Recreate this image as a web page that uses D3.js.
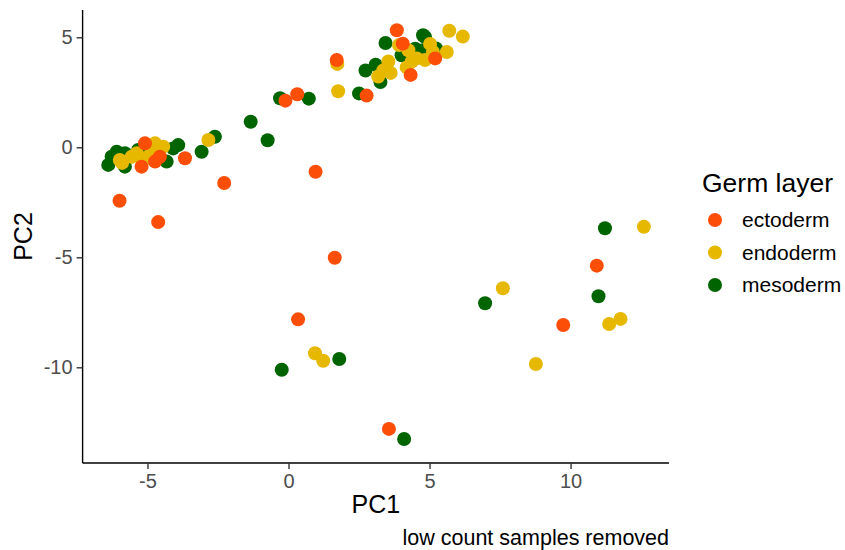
<!DOCTYPE html>
<html>
<head>
<meta charset="utf-8">
<script src="https://cdn.jsdelivr.net/npm/d3@7"></script>
<style>
  body { margin: 0; background: #fff; }
  svg { display: block; font-family: "Liberation Sans", Arial, sans-serif; }
</style>
</head>
<body>
<svg id="chart" width="845" height="550"></svg>
<script>
// PCA scores, [PC1, PC2]
const mesoderm = [
  [-0.24, -10.11], [1.80, -9.62], [4.10, -13.26], [6.97, -7.09], [10.99, -6.77], [11.22, -3.68],
  [-1.34, 1.16], [-0.74, 0.32], [-0.30, 2.23], [0.72, 2.21], [2.50, 2.45],
  [2.73, 3.49], [3.09, 3.75], [3.26, 2.97], [3.44, 4.74], [4.01, 4.18], [4.77, 5.09], [4.84, 5.01],
  [4.72, 4.40], [4.49, 4.48], [5.23, 4.49],
  [-6.39, -0.80], [-6.27, -0.43], [-6.09, -0.20], [-5.80, -0.27], [-5.80, -0.88], [-5.33, -0.12],
  [-4.97, 0.03], [-4.32, -0.65], [-4.09, -0.05], [-3.91, 0.10], [-3.08, -0.20], [-2.61, 0.48]
];
const endoderm = [
  [0.94, -9.36], [1.23, -9.70], [7.60, -6.41], [8.77, -9.85], [11.37, -8.03], [11.77, -7.80], [12.60, -3.61],
  [1.73, 3.79], [1.76, 2.55], [3.54, 3.90], [3.36, 3.49], [3.62, 3.38], [3.18, 3.22],
  [3.92, 4.65], [4.25, 4.41], [5.02, 4.70], [5.12, 4.33], [4.84, 3.97], [4.37, 3.90], [4.19, 3.63],
  [4.55, 4.04], [5.61, 4.33], [5.70, 5.30], [6.18, 5.03],
  [-5.98, -0.58], [-5.90, -0.71], [-5.56, -0.43], [-5.38, -0.27], [-5.21, -0.50], [-4.91, -0.35],
  [-4.73, 0.18], [-4.79, -0.58], [-4.56, -0.05], [-4.44, 0.03], [-2.84, 0.33]
];
const ectoderm = [
  [-5.99, -2.43], [-4.62, -3.40], [-2.28, -1.62], [0.96, -1.11], [1.64, -5.02], [0.34, -7.82],
  [3.56, -12.80], [-3.67, -0.50], [9.74, -8.08], [10.93, -5.38],
  [-0.11, 2.12], [0.31, 2.41], [1.71, 3.97], [2.77, 2.35], [3.84, 5.32], [4.05, 4.71],
  [5.20, 4.04], [4.33, 3.29],
  [-5.21, -0.88], [-5.09, 0.18], [-4.73, -0.65], [-4.56, -0.43]
];

const groups = ["ectoderm", "endoderm", "mesoderm"];
const groupColors = ["#FC4E07", "#E7B800", "#006400"];
const xTicks = [-5, 0, 5, 10];
const yTicks = [5, 0, -5, -10];

const svg = d3.select("#chart");
const panel = { left: 82.6, right: 669, top: 10, bottom: 463 };

const x = d3.scaleLinear().domain([-7.30, 13.49]).range([panel.left, panel.right]);
const y = d3.scaleLinear().domain([-14.35, 6.24]).range([panel.bottom, panel.top]);
const color = d3.scaleOrdinal().domain(groups).range(groupColors);

// points: mesoderm first, then endoderm, ectoderm on top
const layers = [["mesoderm", mesoderm], ["endoderm", endoderm], ["ectoderm", ectoderm]];
layers.forEach(([name, pts]) => {
  svg.append("g").selectAll("circle")
    .data(pts)
    .join("circle")
    .attr("cx", d => x(d[0]))
    .attr("cy", d => y(d[1]))
    .attr("r", 7)
    .attr("fill", color(name));
});

// axes (plain hyphen for negatives, like the original)
const fmt = d => String(d);
const xAxis = svg.append("g")
  .attr("transform", `translate(0,${panel.bottom})`)
  .call(d3.axisBottom(x).tickValues(xTicks).tickFormat(fmt).tickSize(6).tickPadding(5).tickSizeOuter(0));
const yAxis = svg.append("g")
  .attr("transform", `translate(${panel.left},0)`)
  .call(d3.axisLeft(y).tickValues(yTicks).tickFormat(fmt).tickSize(6).tickPadding(4).tickSizeOuter(0));

[xAxis, yAxis].forEach(a => {
  a.select(".domain").attr("stroke", "#000").attr("stroke-width", 1.4);
  a.selectAll(".tick line").attr("stroke", "#333").attr("stroke-width", 1.4);
  a.selectAll(".tick text")
    .attr("fill", "#4d4d4d")
    .attr("font-size", "20px")
    .attr("font-family", "Liberation Sans, Arial, sans-serif");
});
xAxis.select(".domain").attr("d", `M${panel.left},0H${panel.right}`);
yAxis.select(".domain").attr("d", `M0,${panel.top}V${panel.bottom}`);

// axis titles
svg.append("text")
  .attr("x", (panel.left + panel.right) / 2)
  .attr("y", 513)
  .attr("text-anchor", "middle")
  .attr("font-size", "25px")
  .text("PC1");

svg.append("text")
  .attr("transform", `translate(32,${(panel.top + panel.bottom) / 2}) rotate(-90)`)
  .attr("text-anchor", "middle")
  .attr("font-size", "25px")
  .text("PC2");

// caption
svg.append("text")
  .attr("x", panel.right)
  .attr("y", 545)
  .attr("text-anchor", "end")
  .attr("font-size", "21.5px")
  .text("low count samples removed");

// legend
const legend = svg.append("g");
legend.append("text")
  .attr("x", 702)
  .attr("y", 192)
  .attr("font-size", "26.5px")
  .text("Germ layer");

const keyY = d3.scalePoint().domain(groups).range([220, 285]);
const keys = legend.selectAll(".key")
  .data(groups)
  .join("g")
  .attr("class", "key")
  .attr("transform", d => `translate(0,${keyY(d)})`);
keys.append("circle")
  .attr("cx", 715)
  .attr("r", 7)
  .attr("fill", d => color(d));
keys.append("text")
  .attr("x", 742)
  .attr("dy", "0.35em")
  .attr("font-size", "21px")
  .text(d => d);
</script>
</body>
</html>
